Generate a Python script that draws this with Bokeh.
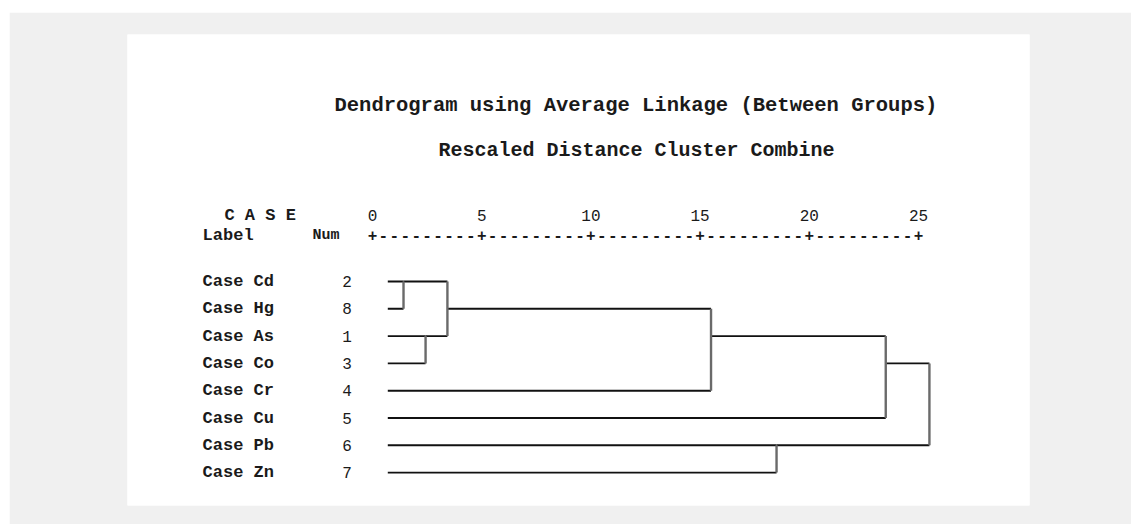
from bokeh.plotting import figure
from bokeh.models import Range1d, ColumnDataSource
from bokeh.core.properties import value
from bokeh.embed import file_html
from bokeh.resources import INLINE

# ---------------- data ----------------
case_labels = ["Case Cd", "Case Hg", "Case As", "Case Co", "Case Cr", "Case Cu", "Case Pb", "Case Zn"]
case_nums = ["2", "8", "1", "3", "4", "5", "6", "7"]
tick_values = [0, 5, 10, 15, 20, 25]
tick_labels = ["0", "5", "10", "15", "20", "25"]
leaf_start = 0.7
# merges: (row of cluster a, row of cluster b, rescaled distance, row representing the new cluster)
merge_a = [0, 2, 0, 1, 6, 2, 3]
merge_b = [1, 3, 2, 4, 7, 5, 6]
merge_dist = [1.42, 2.43, 3.43, 15.5, 18.5, 23.5, 25.5]
merge_new_row = [0, 2, 1, 2, 6, 3, None]

title_text = "Dendrogram using Average Linkage (Between Groups)"
subtitle_text = "Rescaled Distance Cluster Combine"

FONT = value("Liberation Mono")
INK = "#1a1a1a"

p = figure(
    width=1122, height=512,
    output_backend="svg", toolbar_location=None,
    x_range=Range1d(-11.218, 30.082),
    y_range=Range1d(8.205, -9.048),
    x_axis_location=None, y_axis_location=None,
    min_border_left=118, min_border_right=102,
    min_border_top=22, min_border_bottom=19,
    background_fill_color="white", border_fill_color="#f0f0f0",
    outline_line_color=None,
)
p.margin = (12, 0, 0, 9)
p.grid.visible = False

# ---------------- dendrogram ----------------
x_start = {i: leaf_start for i in range(len(case_labels))}
hx0, hx1, hy = [], [], []
vx, vy0, vy1 = [], [], []
for a, b, d, nr in zip(merge_a, merge_b, merge_dist, merge_new_row):
    for r in (a, b):
        hx0.append(x_start[r]); hx1.append(d); hy.append(r)
    vx.append(d); vy0.append(min(a, b)); vy1.append(max(a, b))
    if nr is not None:
        x_start[nr] = d

p.segment(x0="x0", y0="y", x1="x1", y1="y",
          source=ColumnDataSource(dict(x0=hx0, x1=hx1, y=hy)),
          line_color="#111111", line_width=1.9)
p.segment(x0="x", y0="y0", x1="x", y1="y1",
          source=ColumnDataSource(dict(x=vx, y0=vy0, y1=vy1)),
          line_color="#6a6a6a", line_width=2.4)

# ---------------- row labels ----------------
rows = list(range(len(case_labels)))
p.text(x=[-7.78] * len(rows), y=rows, text=case_labels,
       text_font=FONT, text_font_style="bold", text_font_size="17px",
       text_color=INK, text_align="left", text_baseline="middle")
p.text(x=[-1.17] * len(rows), y=rows, text=case_nums,
       text_font=FONT, text_font_size="16px",
       text_color=INK, text_align="center", text_baseline="middle")

# ---------------- header ----------------
p.text(x=[12.06], y=[-6.45], text=[title_text],
       text_font=FONT, text_font_style="bold", text_font_size="20.5px",
       text_color=INK, text_align="center", text_baseline="middle")
p.text(x=[12.09], y=[-4.8], text=[subtitle_text],
       text_font=FONT, text_font_style="bold", text_font_size="20px",
       text_color=INK, text_align="center", text_baseline="middle")
p.text(x=[-6.78], y=[-2.42], text=["C A S E"],
       text_font=FONT, text_font_style="bold", text_font_size="17px",
       text_color=INK, text_align="left", text_baseline="middle")
p.text(x=[-7.78], y=[-1.68], text=["Label"],
       text_font=FONT, text_font_style="bold", text_font_size="17px",
       text_color=INK, text_align="left", text_baseline="middle")
p.text(x=[-2.75], y=[-1.68], text=["Num"],
       text_font=FONT, text_font_style="bold", text_font_size="15px",
       text_color=INK, text_align="left", text_baseline="middle")

# ---------------- axis (tick labels and +----+ rule) ----------------
p.text(x=tick_values, y=[-2.42] * len(tick_values), text=tick_labels,
       text_font=FONT, text_font_size="16px",
       text_color=INK, text_align="center", text_baseline="middle")
rule_x, rule_t = [], []
k = 0
while k * 0.5 <= tick_values[-1]:
    xx = k * 0.5
    rule_x.append(xx)
    rule_t.append("+" if xx in tick_values else "-")
    k += 1
p.text(x=rule_x, y=[-1.68] * len(rule_x), text=rule_t,
       text_font=FONT, text_font_size="16px", text_font_style="bold",
       text_color=INK, text_align="center", text_baseline="middle")

open("out.html", "w").write(file_html(p, INLINE))
